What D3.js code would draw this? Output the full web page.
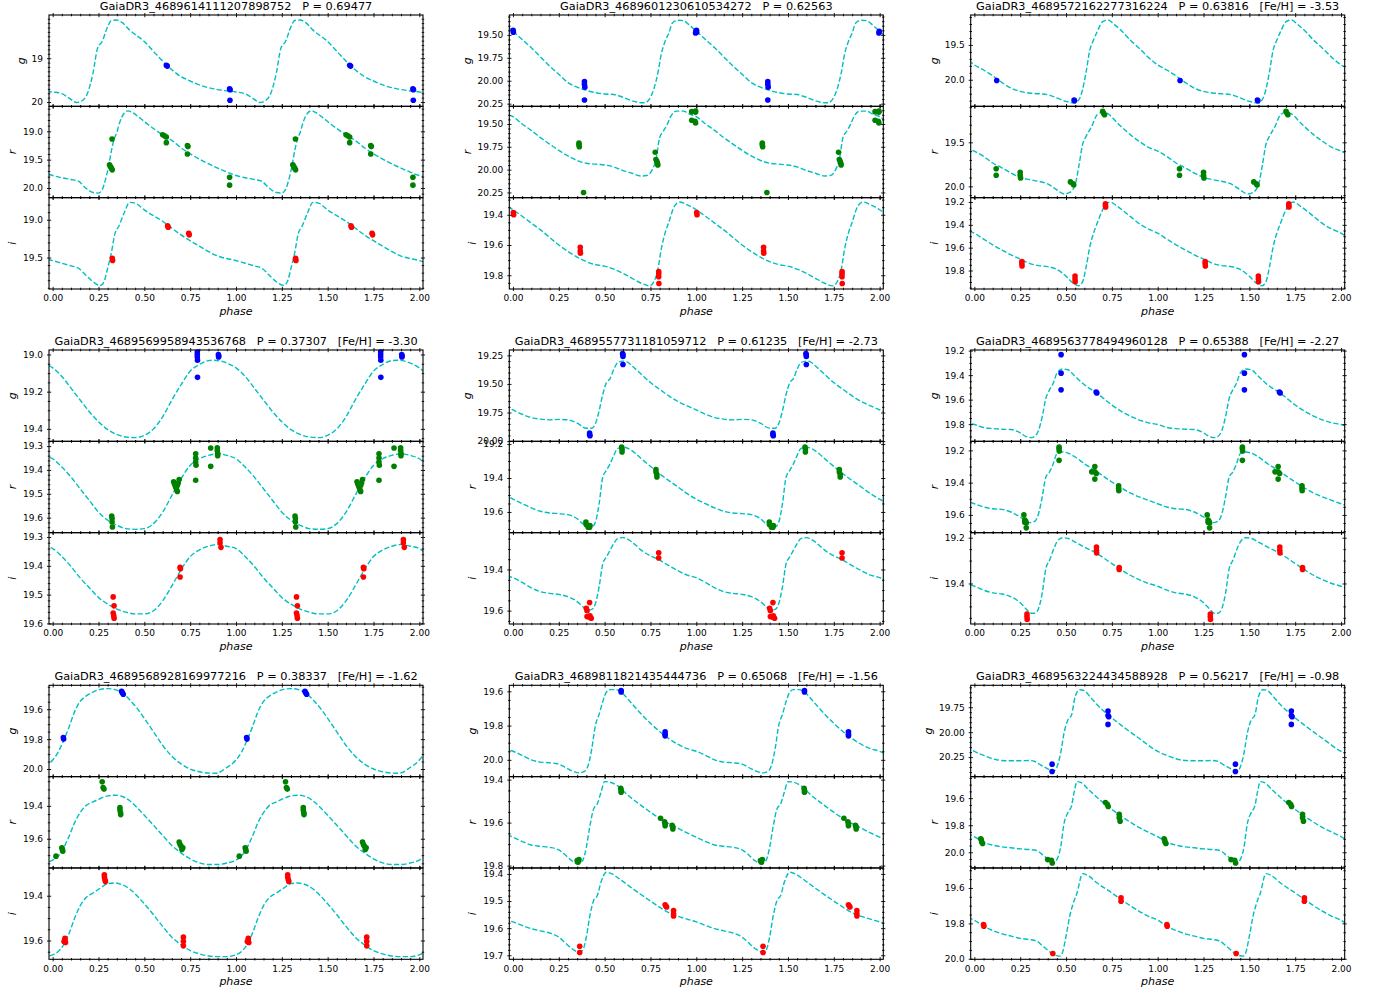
<!DOCTYPE html>
<html><head><meta charset="utf-8">
<script src="https://cdn.jsdelivr.net/npm/d3@7"></script>
<style>
body{margin:0;background:#fff;}
svg{font-family:"DejaVu Sans",sans-serif;}
</style></head><body>
<svg id="chart" width="1376" height="995"></svg>
<script>
// ---------------- data ----------------
const starIds = ["GaiaDR3_4689614111207898752","GaiaDR3_4689601230610534272","GaiaDR3_4689572162277316224",
  "GaiaDR3_4689569958943536768","GaiaDR3_4689557731181059712","GaiaDR3_4689563778494960128",
  "GaiaDR3_4689568928169977216","GaiaDR3_4689811821435444736","GaiaDR3_4689563224434588928"];
const periods = ["0.69477","0.62563","0.63816","0.37307","0.61235","0.65388","0.38337","0.65068","0.56217"];
const fehs = [null,null,"-3.53","-3.30","-2.73","-2.27","-1.62","-1.56","-0.98"];
const bands = ["g","r","i"];
const xTickValues = [0,0.25,0.5,0.75,1,1.25,1.5,1.75,2];

// template light curves: [phase, mag] over one cycle
const curve1g=[[0,19.77],[0.05,19.81],[0.09,19.91],[0.13,20.01],[0.16,19.97],[0.19,19.80],[0.22,19.34],[0.245,18.77],[0.27,18.62],[0.30,18.28],[0.32,18.14],[0.35,18.13],[0.38,18.19],[0.42,18.36],[0.50,18.62],[0.56,18.89],[0.62,19.15],[0.70,19.42],[0.75,19.52],[0.80,19.61],[0.88,19.70],[0.94,19.74]];
const curve1r=[[0,19.78],[0.05,19.82],[0.10,19.85],[0.14,19.88],[0.18,20.00],[0.22,20.08],[0.25,20.09],[0.27,20.03],[0.29,19.83],[0.305,19.62],[0.32,19.35],[0.335,19.14],[0.35,19.02],[0.365,18.85],[0.39,18.68],[0.41,18.64],[0.43,18.66],[0.47,18.75],[0.52,18.88],[0.60,19.06],[0.65,19.16],[0.70,19.29],[0.80,19.49],[0.90,19.65],[0.95,19.72]];
const curve1i=[[0,19.54],[0.05,19.575],[0.10,19.61],[0.14,19.64],[0.18,19.73],[0.22,19.82],[0.26,19.87],[0.28,19.82],[0.30,19.64],[0.32,19.44],[0.34,19.18],[0.36,19.09],[0.39,18.91],[0.42,18.77],[0.45,18.78],[0.50,18.87],[0.60,19.02],[0.70,19.20],[0.80,19.35],[0.90,19.48]];
const curve2g=[[0,19.46],[0.05,19.55],[0.10,19.64],[0.15,19.74],[0.20,19.84],[0.25,19.93],[0.30,20.02],[0.35,20.07],[0.40,20.105],[0.45,20.13],[0.50,20.145],[0.55,20.15],[0.60,20.18],[0.65,20.22],[0.70,20.24],[0.72,20.24],[0.75,20.18],[0.77,20.08],[0.79,19.92],[0.81,19.70],[0.83,19.57],[0.85,19.48],[0.87,19.37],[0.90,19.34],[0.93,19.345],[0.96,19.39]];
const curve2r=[[0,19.42],[0.05,19.50],[0.10,19.57],[0.15,19.65],[0.20,19.72],[0.25,19.79],[0.30,19.85],[0.35,19.90],[0.40,19.93],[0.45,19.94],[0.50,19.95],[0.55,19.97],[0.60,20.01],[0.65,20.04],[0.70,20.07],[0.73,20.065],[0.76,20.00],[0.78,19.89],[0.80,19.65],[0.82,19.58],[0.84,19.51],[0.86,19.42],[0.89,19.36],[0.93,19.36],[0.96,19.39]];
const curve2i=[[0,19.367],[0.05,19.41],[0.10,19.455],[0.15,19.50],[0.20,19.55],[0.25,19.60],[0.30,19.643],[0.35,19.68],[0.40,19.71],[0.45,19.73],[0.50,19.74],[0.55,19.76],[0.60,19.787],[0.65,19.82],[0.70,19.853],[0.745,19.87],[0.77,19.84],[0.79,19.765],[0.81,19.62],[0.83,19.52],[0.85,19.45],[0.88,19.345],[0.91,19.316],[0.95,19.334]];
const curve3g=[[0,19.786],[0.05,19.86],[0.10,19.943],[0.15,20.038],[0.20,20.12],[0.25,20.167],[0.30,20.19],[0.35,20.20],[0.40,20.214],[0.45,20.26],[0.50,20.31],[0.545,20.333],[0.57,20.286],[0.59,20.143],[0.61,19.88],[0.63,19.57],[0.65,19.43],[0.67,19.31],[0.70,19.167],[0.73,19.143],[0.76,19.20],[0.80,19.29],[0.85,19.43],[0.90,19.55],[0.95,19.68]];
const curve3r=[[0,19.60],[0.05,19.66],[0.10,19.735],[0.15,19.79],[0.20,19.85],[0.25,19.90],[0.30,19.924],[0.35,19.943],[0.40,19.973],[0.45,20.04],[0.49,20.087],[0.52,20.07],[0.55,19.98],[0.57,19.77],[0.59,19.527],[0.61,19.43],[0.64,19.32],[0.67,19.186],[0.70,19.16],[0.73,19.178],[0.78,19.28],[0.85,19.413],[0.90,19.49],[0.95,19.557]];
const curve3i=[[0,19.473],[0.05,19.525],[0.10,19.575],[0.15,19.62],[0.20,19.663],[0.25,19.70],[0.30,19.737],[0.35,19.757],[0.40,19.766],[0.45,19.79],[0.50,19.85],[0.54,19.913],[0.57,19.933],[0.59,19.90],[0.61,19.766],[0.63,19.59],[0.65,19.473],[0.67,19.385],[0.70,19.267],[0.74,19.20],[0.78,19.238],[0.85,19.326],[0.90,19.39],[0.95,19.437]];
const curve4g=[[0,19.072],[0.05,19.118],[0.10,19.181],[0.15,19.245],[0.20,19.308],[0.25,19.362],[0.30,19.404],[0.35,19.43],[0.40,19.444],[0.45,19.447],[0.50,19.435],[0.55,19.40],[0.60,19.335],[0.65,19.245],[0.70,19.163],[0.75,19.09],[0.80,19.054],[0.85,19.033],[0.88,19.031],[0.92,19.036],[0.96,19.05]];
const curve4r=[[0,19.353],[0.05,19.388],[0.10,19.43],[0.15,19.479],[0.20,19.528],[0.25,19.577],[0.30,19.611],[0.35,19.632],[0.40,19.646],[0.45,19.649],[0.50,19.646],[0.55,19.625],[0.60,19.577],[0.65,19.507],[0.70,19.437],[0.75,19.381],[0.80,19.353],[0.85,19.339],[0.90,19.332],[0.95,19.339]];
const curve4i=[[0,19.34],[0.05,19.368],[0.10,19.402],[0.15,19.442],[0.20,19.476],[0.25,19.51],[0.30,19.533],[0.35,19.55],[0.40,19.561],[0.45,19.567],[0.50,19.567],[0.55,19.556],[0.60,19.522],[0.65,19.47],[0.70,19.414],[0.75,19.368],[0.80,19.345],[0.85,19.332],[0.90,19.326],[0.95,19.332]];
const curve5g=[[0,19.727],[0.05,19.765],[0.10,19.794],[0.15,19.808],[0.20,19.814],[0.25,19.81],[0.30,19.814],[0.35,19.843],[0.40,19.887],[0.43,19.887],[0.45,19.846],[0.47,19.735],[0.49,19.59],[0.51,19.488],[0.53,19.453],[0.55,19.372],[0.57,19.314],[0.60,19.30],[0.62,19.305],[0.65,19.343],[0.70,19.416],[0.75,19.488],[0.80,19.547],[0.85,19.605],[0.90,19.654],[0.95,19.692]];
const curve5r=[[0,19.525],[0.05,19.551],[0.10,19.576],[0.15,19.596],[0.20,19.606],[0.25,19.61],[0.30,19.616],[0.35,19.64],[0.38,19.669],[0.41,19.688],[0.43,19.688],[0.45,19.659],[0.47,19.551],[0.49,19.394],[0.51,19.355],[0.53,19.316],[0.55,19.267],[0.57,19.227],[0.60,19.218],[0.63,19.227],[0.67,19.257],[0.70,19.286],[0.80,19.375],[0.90,19.453],[0.95,19.492]];
const curve5i=[[0,19.44],[0.05,19.463],[0.10,19.489],[0.15,19.508],[0.20,19.516],[0.25,19.521],[0.30,19.532],[0.35,19.556],[0.38,19.58],[0.41,19.597],[0.43,19.594],[0.45,19.565],[0.47,19.484],[0.49,19.371],[0.51,19.339],[0.53,19.306],[0.55,19.274],[0.57,19.25],[0.60,19.245],[0.63,19.255],[0.67,19.282],[0.70,19.306],[0.80,19.355],[0.90,19.406],[0.95,19.427]];
const curve6g=[[0,19.803],[0.05,19.827],[0.10,19.836],[0.15,19.841],[0.20,19.844],[0.25,19.871],[0.28,19.899],[0.31,19.91],[0.33,19.899],[0.35,19.85],[0.37,19.74],[0.39,19.589],[0.41,19.52],[0.43,19.466],[0.45,19.384],[0.48,19.35],[0.51,19.356],[0.55,19.411],[0.60,19.479],[0.67,19.548],[0.75,19.644],[0.85,19.734],[0.95,19.789]];
const curve6r=[[0,19.531],[0.05,19.551],[0.10,19.562],[0.15,19.566],[0.20,19.582],[0.25,19.613],[0.30,19.648],[0.33,19.638],[0.35,19.593],[0.37,19.489],[0.39,19.365],[0.41,19.334],[0.43,19.283],[0.45,19.221],[0.48,19.21],[0.51,19.217],[0.55,19.241],[0.60,19.283],[0.67,19.334],[0.75,19.396],[0.85,19.464],[0.95,19.51]];
const curve6i=[[0,19.412],[0.05,19.429],[0.10,19.441],[0.15,19.446],[0.20,19.458],[0.25,19.484],[0.28,19.509],[0.31,19.53],[0.33,19.53],[0.35,19.509],[0.37,19.443],[0.39,19.335],[0.41,19.299],[0.43,19.255],[0.45,19.219],[0.48,19.2],[0.51,19.203],[0.55,19.219],[0.60,19.241],[0.67,19.27],[0.75,19.313],[0.85,19.364],[0.95,19.40]];
const curve7g=[[0,19.94],[0.03,19.887],[0.06,19.808],[0.09,19.717],[0.12,19.616],[0.15,19.548],[0.18,19.514],[0.22,19.485],[0.26,19.467],[0.30,19.462],[0.34,19.469],[0.38,19.492],[0.42,19.537],[0.46,19.593],[0.50,19.661],[0.55,19.751],[0.60,19.842],[0.65,19.914],[0.70,19.966],[0.75,20.0],[0.80,20.018],[0.85,20.027],[0.89,20.028],[0.95,19.99]];
const curve7r=[[0,19.73],[0.03,19.706],[0.06,19.655],[0.09,19.584],[0.12,19.502],[0.15,19.441],[0.18,19.40],[0.22,19.376],[0.26,19.355],[0.30,19.339],[0.34,19.335],[0.38,19.343],[0.42,19.369],[0.46,19.41],[0.50,19.457],[0.55,19.518],[0.60,19.58],[0.65,19.641],[0.70,19.686],[0.75,19.722],[0.80,19.747],[0.85,19.757],[0.90,19.757],[0.95,19.748]];
const curve7i=[[0,19.664],[0.03,19.649],[0.06,19.619],[0.09,19.567],[0.12,19.50],[0.15,19.445],[0.18,19.41],[0.22,19.388],[0.26,19.366],[0.30,19.346],[0.34,19.343],[0.38,19.351],[0.42,19.37],[0.46,19.40],[0.50,19.436],[0.55,19.485],[0.60,19.537],[0.65,19.585],[0.70,19.619],[0.75,19.645],[0.80,19.66],[0.85,19.669],[0.90,19.672],[0.95,19.672]];
const curve8g=[[0,19.95],[0.05,19.974],[0.10,20.0],[0.15,20.013],[0.20,20.017],[0.25,20.025],[0.30,20.053],[0.33,20.068],[0.36,20.076],[0.39,20.068],[0.41,20.033],[0.43,19.935],[0.45,19.797],[0.47,19.734],[0.49,19.659],[0.51,19.604],[0.53,19.59],[0.56,19.59],[0.59,19.604],[0.63,19.649],[0.67,19.698],[0.75,19.787],[0.85,19.876],[0.95,19.935]];
const curve8r=[[0,19.668],[0.05,19.688],[0.10,19.704],[0.15,19.71],[0.20,19.715],[0.25,19.727],[0.28,19.746],[0.32,19.777],[0.355,19.792],[0.38,19.777],[0.40,19.715],[0.42,19.614],[0.44,19.536],[0.46,19.513],[0.48,19.459],[0.50,19.409],[0.53,19.412],[0.57,19.428],[0.62,19.467],[0.70,19.521],[0.80,19.58],[0.90,19.626],[0.95,19.648]];
const curve8i=[[0,19.577],[0.05,19.59],[0.10,19.602],[0.15,19.61],[0.20,19.618],[0.25,19.633],[0.28,19.651],[0.32,19.675],[0.36,19.688],[0.38,19.682],[0.40,19.633],[0.42,19.553],[0.44,19.498],[0.46,19.48],[0.48,19.431],[0.51,19.394],[0.54,19.40],[0.58,19.418],[0.65,19.453],[0.75,19.50],[0.85,19.543],[0.95,19.567]];
const curve9g=[[0,20.193],[0.05,20.233],[0.10,20.267],[0.15,20.284],[0.20,20.287],[0.25,20.287],[0.30,20.284],[0.33,20.294],[0.36,20.328],[0.40,20.368],[0.43,20.395],[0.45,20.351],[0.47,20.216],[0.49,20.0],[0.51,19.878],[0.53,19.828],[0.55,19.642],[0.575,19.574],[0.60,19.584],[0.63,19.642],[0.67,19.726],[0.72,19.811],[0.80,19.929],[0.90,20.064]];
const curve9r=[[0,19.885],[0.05,19.925],[0.10,19.947],[0.15,19.96],[0.20,19.967],[0.25,19.975],[0.30,19.98],[0.34,19.987],[0.37,20.017],[0.40,20.049],[0.43,20.079],[0.45,20.054],[0.47,19.967],[0.49,19.781],[0.51,19.707],[0.53,19.657],[0.545,19.55],[0.56,19.478],[0.58,19.483],[0.62,19.533],[0.67,19.595],[0.72,19.652],[0.80,19.732],[0.90,19.818]];
const curve9i=[[0,19.782],[0.05,19.816],[0.10,19.84],[0.15,19.859],[0.20,19.872],[0.25,19.885],[0.30,19.891],[0.34,19.90],[0.37,19.925],[0.40,19.951],[0.43,19.975],[0.465,19.985],[0.48,19.966],[0.50,19.872],[0.52,19.76],[0.54,19.684],[0.56,19.628],[0.59,19.519],[0.62,19.53],[0.67,19.572],[0.75,19.628],[0.85,19.70],[0.95,19.76]];

// observations: [phase, mag] (plotted at phase and phase+1)
const obs1g=[[0.62,19.16],[0.625,19.18],[0.965,19.70],[0.968,19.72],[0.967,19.96]];
const obs1r=[[0.31,19.59],[0.315,19.62],[0.32,19.65],[0.325,19.68],[0.324,19.135],[0.60,19.06],[0.61,19.08],[0.62,19.10],[0.62,19.20],[0.735,19.25],[0.738,19.27],[0.735,19.40],[0.965,19.81],[0.965,19.95]];
const obs1i=[[0.325,19.51],[0.327,19.54],[0.627,19.08],[0.63,19.10],[0.742,19.18],[0.745,19.20]];
const obs2g=[[0.001,19.45],[0.002,19.47],[0.998,19.46],[0.996,19.48],[0.39,20.01],[0.39,20.04],[0.392,20.07],[0.39,20.21]];
const obs2r=[[0.36,19.71],[0.36,19.73],[0.362,19.75],[0.385,20.25],[0.776,19.81],[0.78,19.89],[0.785,19.91],[0.788,19.93],[0.79,19.95],[0.975,19.365],[0.996,19.36],[0.996,19.37],[0.975,19.46],[0.996,19.49],[0.993,19.47]];
const obs2i=[[0.002,19.385],[0.004,19.40],[0.367,19.615],[0.367,19.64],[0.368,19.655],[0.795,19.776],[0.795,19.79],[0.795,19.81],[0.796,19.855]];
const obs3g=[[0.122,20.01],[0.544,20.29],[0.546,20.30]];
const obs3r=[[0.119,19.80],[0.119,19.875],[0.25,19.84],[0.25,19.875],[0.252,19.905],[0.524,19.95],[0.538,19.97],[0.542,19.985],[0.70,19.148],[0.705,19.17],[0.71,19.186]];
const obs3i=[[0.259,19.722],[0.259,19.74],[0.26,19.76],[0.549,19.848],[0.549,19.875],[0.55,19.898],[0.715,19.215],[0.715,19.23],[0.716,19.244]];
const obs4g=[[0.789,18.987],[0.789,19.0],[0.789,19.014],[0.79,19.031],[0.79,19.123],[0.904,19.0],[0.906,19.008],[0.905,19.013]];
const obs4r=[[0.322,19.593],[0.324,19.604],[0.324,19.618],[0.326,19.639],[0.66,19.45],[0.665,19.46],[0.67,19.47],[0.675,19.48],[0.68,19.49],[0.685,19.455],[0.69,19.44],[0.68,19.465],[0.78,19.332],[0.78,19.35],[0.78,19.367],[0.782,19.38],[0.78,19.443],[0.862,19.308],[0.862,19.385],[0.898,19.307],[0.898,19.318],[0.9,19.33],[0.9,19.34]];
const obs4i=[[0.33,19.508],[0.335,19.539],[0.33,19.564],[0.333,19.573],[0.335,19.582],[0.695,19.405],[0.697,19.41],[0.695,19.439],[0.913,19.309],[0.913,19.32],[0.918,19.336]];
const obs5g=[[0.598,19.235],[0.6,19.245],[0.6,19.26],[0.6,19.33],[0.418,19.93],[0.418,19.945],[0.42,19.953]];
const obs5r=[[0.593,19.218],[0.595,19.23],[0.595,19.247],[0.78,19.35],[0.78,19.365],[0.785,19.38],[0.785,19.394],[0.398,19.66],[0.4,19.675],[0.41,19.69],[0.418,19.69],[0.42,19.68]];
const obs5i=[[0.795,19.319],[0.795,19.344],[0.4,19.589],[0.404,19.6],[0.418,19.561],[0.404,19.629],[0.418,19.632],[0.427,19.637],[0.42,19.625]];
const obs6g=[[0.473,19.233],[0.473,19.384],[0.473,19.52],[0.664,19.538],[0.668,19.546]];
const obs6r=[[0.462,19.18],[0.462,19.19],[0.463,19.204],[0.462,19.262],[0.64,19.333],[0.657,19.30],[0.657,19.333],[0.665,19.343],[0.657,19.378],[0.787,19.42],[0.787,19.435],[0.788,19.45],[0.27,19.6],[0.275,19.632],[0.28,19.64],[0.283,19.65],[0.283,19.68],[0.275,19.645]];
const obs6i=[[0.287,19.533],[0.287,19.545],[0.288,19.557],[0.666,19.241],[0.666,19.255],[0.667,19.267],[0.79,19.33],[0.79,19.339]];
const obs7g=[[0.058,19.79],[0.06,19.80],[0.376,19.48],[0.38,19.49],[0.385,19.50]];
const obs7r=[[0.018,19.706],[0.05,19.655],[0.053,19.665],[0.055,19.676],[0.27,19.253],[0.275,19.288],[0.28,19.298],[0.367,19.41],[0.367,19.425],[0.37,19.44],[0.371,19.453],[0.69,19.62],[0.695,19.635],[0.70,19.645],[0.71,19.655],[0.705,19.665]];
const obs7i=[[0.067,19.59],[0.067,19.6],[0.07,19.609],[0.062,19.605],[0.282,19.306],[0.282,19.316],[0.285,19.328],[0.288,19.336],[0.713,19.585],[0.713,19.604],[0.713,19.624]];
const obs8g=[[0.59,19.596],[0.59,19.604],[0.83,19.836],[0.83,19.85],[0.83,19.86]];
const obs8r=[[0.35,19.777],[0.355,19.784],[0.36,19.772],[0.588,19.44],[0.59,19.45],[0.59,19.459],[0.805,19.58],[0.827,19.596],[0.83,19.605],[0.83,19.614],[0.868,19.613],[0.872,19.62],[0.872,19.63]];
const obs8i=[[0.364,19.667],[0.364,19.69],[0.83,19.514],[0.835,19.519],[0.838,19.522],[0.876,19.535],[0.876,19.547],[0.876,19.555]];
const obs9g=[[0.729,19.787],[0.729,19.834],[0.733,19.845],[0.729,19.922],[0.424,20.321],[0.424,20.395]];
const obs9r=[[0.035,19.9],[0.038,19.91],[0.04,19.925],[0.045,19.935],[0.715,19.632],[0.725,19.645],[0.73,19.662],[0.79,19.72],[0.79,19.745],[0.795,19.77],[0.40,20.054],[0.42,20.059],[0.425,20.079]];
const obs9i=[[0.05,19.806],[0.052,19.816],[0.428,19.97],[0.8,19.656],[0.8,19.675]];

// axis limits (bright at top) and major tick steps per band
const yLimits = [
  [[18.015,20.098],[18.559,20.171],[18.708,19.916]],
  [[19.283,20.279],[19.307,20.307],[19.287,19.891]],
  [[19.071,20.381],[19.091,20.129],[19.162,19.962]],
  [[18.976,19.467],[19.280,19.663],[19.285,19.602]],
  [[19.203,20.002],[19.184,19.722],[19.221,19.665]],
  [[19.195,19.940],[19.144,19.710],[19.178,19.577]],
  [[19.440,20.051],[19.222,19.778],[19.276,19.684]],
  [[19.565,20.098],[19.386,19.811],[19.378,19.715]],
  [[19.530,20.446],[19.441,20.116],[19.487,20.003]]
];
const yTickSteps = [[1,0.5,0.5],[0.25,0.25,0.2],[0.5,0.5,0.2],[0.2,0.1,0.1],[0.25,0.2,0.2],[0.2,0.2,0.2],[0.2,0.2,0.2],[0.2,0.2,0.1],[0.25,0.2,0.2]];

const curves = [[curve1g,curve1r,curve1i],[curve2g,curve2r,curve2i],[curve3g,curve3r,curve3i],
  [curve4g,curve4r,curve4i],[curve5g,curve5r,curve5i],[curve6g,curve6r,curve6i],
  [curve7g,curve7r,curve7i],[curve8g,curve8r,curve8i],[curve9g,curve9r,curve9i]];
const observations = [[obs1g,obs1r,obs1i],[obs2g,obs2r,obs2i],[obs3g,obs3r,obs3i],
  [obs4g,obs4r,obs4i],[obs5g,obs5r,obs5i],[obs6g,obs6r,obs6i],
  [obs7g,obs7r,obs7i],[obs8g,obs8r,obs8i],[obs9g,obs9r,obs9i]];

// ---------------- layout & style ----------------
const bandColor = {g:"#0000ff", r:"#008000", i:"#ff0000"};
const curveColor = "#00bfbf";
const colX = [49, 509.3, 970.7], rowY = [15, 350, 685.3];
const axW = 374, axH = 274, subH = axH/3;
const xDomain = [-0.02, 2.02];
const minorStep = s => ({1:0.1, 0.5:0.1, 0.25:0.05, 0.2:0.05, 0.1:0.02})[s];
const decimals = s => ({1:0, 0.5:1, 0.25:2, 0.2:1, 0.1:1})[s];

const svg = d3.select("#chart");
const defs = svg.append("defs");
const r3 = v => Math.round(v*1e4)/1e4;

function ticksBetween(lo, hi, step){
  const out=[]; const start=Math.ceil(lo/step-1e-6);
  for(let k=start; k*step<=hi+1e-9; k++) out.push(r3(k*step));
  return out;
}
function styleTicks(g, orient, inLen, outLen){
  g.select(".domain").remove();
  g.selectAll(".tick line").attr("stroke","#000").attr("stroke-width",0.9).each(function(){
    const l=d3.select(this);
    if(orient==="left"){ l.attr("x1",inLen).attr("x2",-outLen); }
    if(orient==="right"){ l.attr("x1",-inLen).attr("x2",outLen); }
    if(orient==="bottom"){ l.attr("y1",-inLen).attr("y2",outLen); }
    if(orient==="top"){ l.attr("y1",inLen).attr("y2",-outLen); }
  });
  g.selectAll(".tick text").attr("fill","#000").style("font-size","9px").style("font-family","DejaVu Sans, sans-serif");
}

starIds.forEach((id, s) => {
  const col = s % 3, row = Math.floor(s / 3);
  const left = colX[col], top = rowY[row];
  const x = d3.scaleLinear().domain(xDomain).range([left, left + axW]);

  let title = id + "   P = " + periods[s];
  if (fehs[s]) title += "   [Fe/H] = " + fehs[s];
  svg.append("text").attr("x", left + axW/2).attr("y", top - 5)
    .attr("text-anchor","middle").style("font-size","11.3px").style("white-space","pre")
    .attr("fill","#000").text(title);

  const xMajor = xTickValues;
  const xMinor = ticksBetween(0, 2, 0.05).filter(v => Math.abs(v/0.25 - Math.round(v/0.25)) > 1e-6);

  bands.forEach((b, k) => {
    const t = top + k*subH, bt = t + subH;
    const [lo, hi] = yLimits[s][k];
    const y = d3.scaleLinear().domain([lo, hi]).range([t, bt]);
    const clipId = `clip${s}_${k}`;
    defs.append("clipPath").attr("id", clipId).append("rect")
      .attr("x", left).attr("y", t).attr("width", axW).attr("height", subH);

    // template curve repeated over cycles
    const ext = [];
    for (let c = -1; c <= 2; c++) curves[s][k].forEach(([p, m]) => ext.push([p + c, m]));
    const line = d3.line().x(d => x(d[0])).y(d => y(d[1])).curve(d3.curveMonotoneX);
    svg.append("path").attr("clip-path", `url(#${clipId})`).attr("d", line(ext))
      .attr("fill","none").attr("stroke", curveColor).attr("stroke-width", 1.4)
      .attr("stroke-dasharray","5.2,2.3");

    // observations (two cycles)
    const pts = [];
    observations[s][k].forEach(([p, m]) => { pts.push([p, m]); pts.push([p + 1, m]); });
    svg.append("g").selectAll("circle").data(pts).join("circle")
      .attr("cx", d => x(d[0])).attr("cy", d => y(d[1])).attr("r", 2.8)
      .attr("fill", bandColor[b]);

    // y axes
    const step = yTickSteps[s][k];
    const yMaj = ticksBetween(lo, hi, step);
    const yMin = ticksBetween(lo, hi, minorStep(step)).filter(v => !yMaj.some(m => Math.abs(m - v) < 1e-6));
    const fmt = d3.format("." + decimals(step) + "f");
    const gl = svg.append("g").attr("transform", `translate(${left},0)`)
      .call(d3.axisLeft(y).tickValues(yMaj).tickFormat(fmt).tickSizeInner(2).tickSizeOuter(0).tickPadding(4));
    styleTicks(gl, "left", 2.2, 2);
    svg.append("g").attr("transform", `translate(${left},0)`)
      .call(d3.axisLeft(y).tickValues(yMin).tickFormat("").tickSizeInner(1.2).tickSizeOuter(0))
      .call(g => styleTicks(g, "left", 1.3, 1.2));
    svg.append("g").attr("transform", `translate(${left+axW},0)`)
      .call(d3.axisRight(y).tickValues(yMaj).tickFormat("").tickSizeInner(2).tickSizeOuter(0))
      .call(g => styleTicks(g, "right", 2.2, 2));
    svg.append("g").attr("transform", `translate(${left+axW},0)`)
      .call(d3.axisRight(y).tickValues(yMin).tickFormat("").tickSizeInner(1.2).tickSizeOuter(0))
      .call(g => styleTicks(g, "right", 1.3, 1.2));

    // x axes (bottom & top)
    const gb = svg.append("g").attr("transform", `translate(0,${bt})`)
      .call(d3.axisBottom(x).tickValues(xMajor).tickFormat(k === 2 ? d3.format(".2f") : "").tickSizeInner(2).tickSizeOuter(0).tickPadding(4));
    styleTicks(gb, "bottom", 2.2, 2);
    svg.append("g").attr("transform", `translate(0,${bt})`)
      .call(d3.axisBottom(x).tickValues(xMinor).tickFormat("").tickSizeInner(1.2).tickSizeOuter(0))
      .call(g => styleTicks(g, "bottom", 1.3, 1.2));
    svg.append("g").attr("transform", `translate(0,${t})`)
      .call(d3.axisTop(x).tickValues(xMajor).tickFormat("").tickSizeInner(2).tickSizeOuter(0))
      .call(g => styleTicks(g, "top", 2.2, 2));
    svg.append("g").attr("transform", `translate(0,${t})`)
      .call(d3.axisTop(x).tickValues(xMinor).tickFormat("").tickSizeInner(1.2).tickSizeOuter(0))
      .call(g => styleTicks(g, "top", 1.3, 1.2));

    // frame
    svg.append("rect").attr("x", left).attr("y", t).attr("width", axW).attr("height", subH)
      .attr("fill","none").attr("stroke","#000").attr("stroke-width",1.1);

    // y label
    let minX = left - 6;
    gl.selectAll(".tick text").each(function(){ const bb = this.getBBox(); minX = Math.min(minX, left + bb.x); });
    const lx = minX - 7, ly = (t + bt) / 2;
    svg.append("text").attr("transform", `translate(${lx},${ly}) rotate(-90)`)
      .attr("text-anchor","middle").style("font-size","11px").style("font-style","italic")
      .attr("fill","#000").text(b);
  });

  svg.append("text").attr("x", left + axW/2).attr("y", top + axH + 26)
    .attr("text-anchor","middle").style("font-size","11px").style("font-style","italic")
    .attr("fill","#000").text("phase");
});
</script>
</body></html>
